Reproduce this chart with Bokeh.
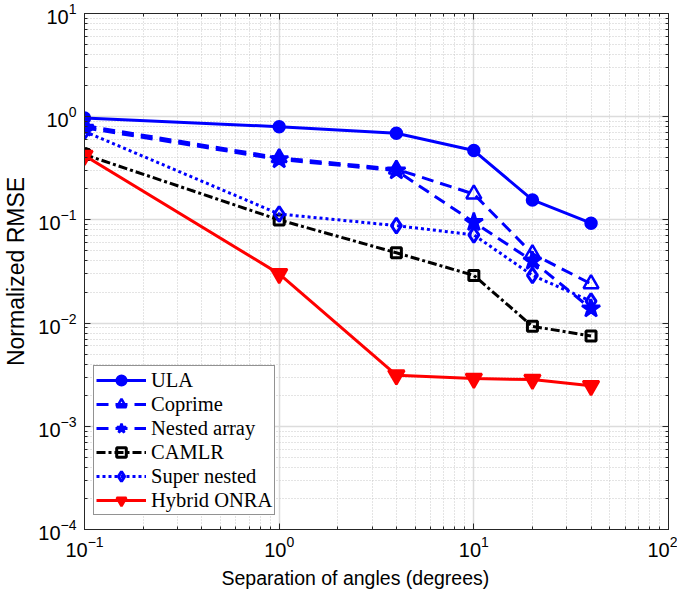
from bokeh.plotting import figure
from bokeh.models import LogAxis, Legend, LegendItem, LogTicker, Title
from bokeh.embed import file_html
from bokeh.resources import INLINE

x = [0.1, 1, 4, 10, 20, 40]
ula = [0.97, 0.80, 0.69, 0.47, 0.156, 0.093]
coprime = [0.82, 0.40, 0.31, 0.178, 0.047, 0.024]
nested = [0.78, 0.385, 0.30, 0.095, 0.040, 0.0138]
camlr = [0.43, 0.10, 0.048, 0.029, 0.0093, 0.0075]
super_nested = [0.72, 0.114, 0.088, 0.0716, 0.029, 0.0163]
hybrid = [0.42, 0.030, 0.00313, 0.0029, 0.00284, 0.00247]

labels = ["ULA", "Coprime", "Nested array", "CAMLR", "Super nested", "Hybrid ONRA"]
xlabel_text = "Separation of angles (degrees)"
ylabel_text = "Normalized RMSE"

AX = "#262626"
p = figure(width=677, height=593, x_axis_type="log", y_axis_type="log",
           x_range=(0.1, 100), y_range=(1e-4, 10),
           output_backend="svg", toolbar_location=None,
           min_border_left=81, min_border_right=9, min_border_top=13, min_border_bottom=0)
p.outline_line_color = AX
p.outline_line_width = 1

for ax in (p.xaxis[0], p.yaxis[0]):
    ax.major_tick_in = 6
    ax.major_tick_out = 0
    ax.minor_tick_in = 3
    ax.minor_tick_out = 0
    ax.axis_line_color = AX
    ax.major_tick_line_color = AX
    ax.minor_tick_line_color = AX
    ax.major_label_text_font = "Liberation Sans"
    ax.major_label_text_font_size = "20px"
    ax.major_label_text_color = "black"
    ax.axis_label_text_font = "Liberation Sans"
    ax.axis_label_text_font_style = "normal"
    ax.axis_label_text_color = "black"
p.yaxis.axis_label = ylabel_text
p.yaxis.axis_label_text_font_size = "23px"
p.xaxis.major_label_standoff = 6
p.yaxis.major_label_standoff = 8
p.yaxis.axis_label_standoff = 6

# x-axis title, slightly left of centre as in the reference
xt = Title(text=xlabel_text, align="left", offset=137, standoff=10,
           text_font="Liberation Sans", text_font_size="19.5px",
           text_font_style="normal", text_color="black")
p.add_layout(xt, "below")

for loc in ("right", "above"):
    a = LogAxis(ticker=LogTicker(num_minor_ticks=10))
    a.major_tick_in = 6
    a.major_tick_out = 0
    a.minor_tick_in = 3
    a.minor_tick_out = 0
    a.axis_line_color = AX
    a.major_tick_line_color = AX
    a.minor_tick_line_color = AX
    a.major_label_text_color = None
    a.major_label_text_font_size = "1px"
    a.major_label_standoff = 0
    p.add_layout(a, loc)

p.xgrid.grid_line_color = "#dcdcdc"
p.ygrid.grid_line_color = "#dcdcdc"
p.xgrid.grid_line_width = 1.5
p.ygrid.grid_line_width = 1.5
p.xgrid.minor_grid_line_color = "#c8c8c8"
p.ygrid.minor_grid_line_color = "#c8c8c8"
p.xgrid.minor_grid_line_dash = "1 2"
p.ygrid.minor_grid_line_dash = "1 2"

BLUE = "#0000ff"
series = [
    (ula, BLUE, "solid", "circle", 11, BLUE, 2.5),
    (coprime, BLUE, "12 7", "triangle", 15, None, 2.5),
    (nested, BLUE, "12 7", "star", 19, BLUE, 2.5),
    (camlr, "black", "9 3 3 3", "square", 10, None, 3),
    (super_nested, BLUE, "3 3", "diamond", 15, None, 3),
    (hybrid, "#ff0000", "solid", "inverted_triangle", 16, "#ff0000", 2.5),
]

items = []
for (ys, col, dash, mk, sz, fill, mlw), lab in zip(series, labels):
    r1 = p.line(x, ys, line_color=col, line_width=3, line_dash=dash)
    r2 = p.scatter(x, ys, marker=mk, size=sz, line_color=col, line_width=mlw,
                   fill_color=fill if fill else "white", fill_alpha=1 if fill else 0)
    items.append(LegendItem(label=lab, renderers=[r1, r2]))

legend = Legend(items=items, location=(9, 14))
legend.label_text_font = "Liberation Serif"
legend.label_text_font_size = "20.5px"
legend.label_text_color = "black"
legend.glyph_width = 50
legend.glyph_height = 24
legend.label_height = 24
legend.label_standoff = 5
legend.spacing = 0
legend.padding = 2
legend.margin = 0
legend.border_line_color = AX
legend.border_line_width = 1.5
legend.background_fill_alpha = 1
p.add_layout(legend, "center")

open("out.html", "w").write(file_html(p, INLINE))
